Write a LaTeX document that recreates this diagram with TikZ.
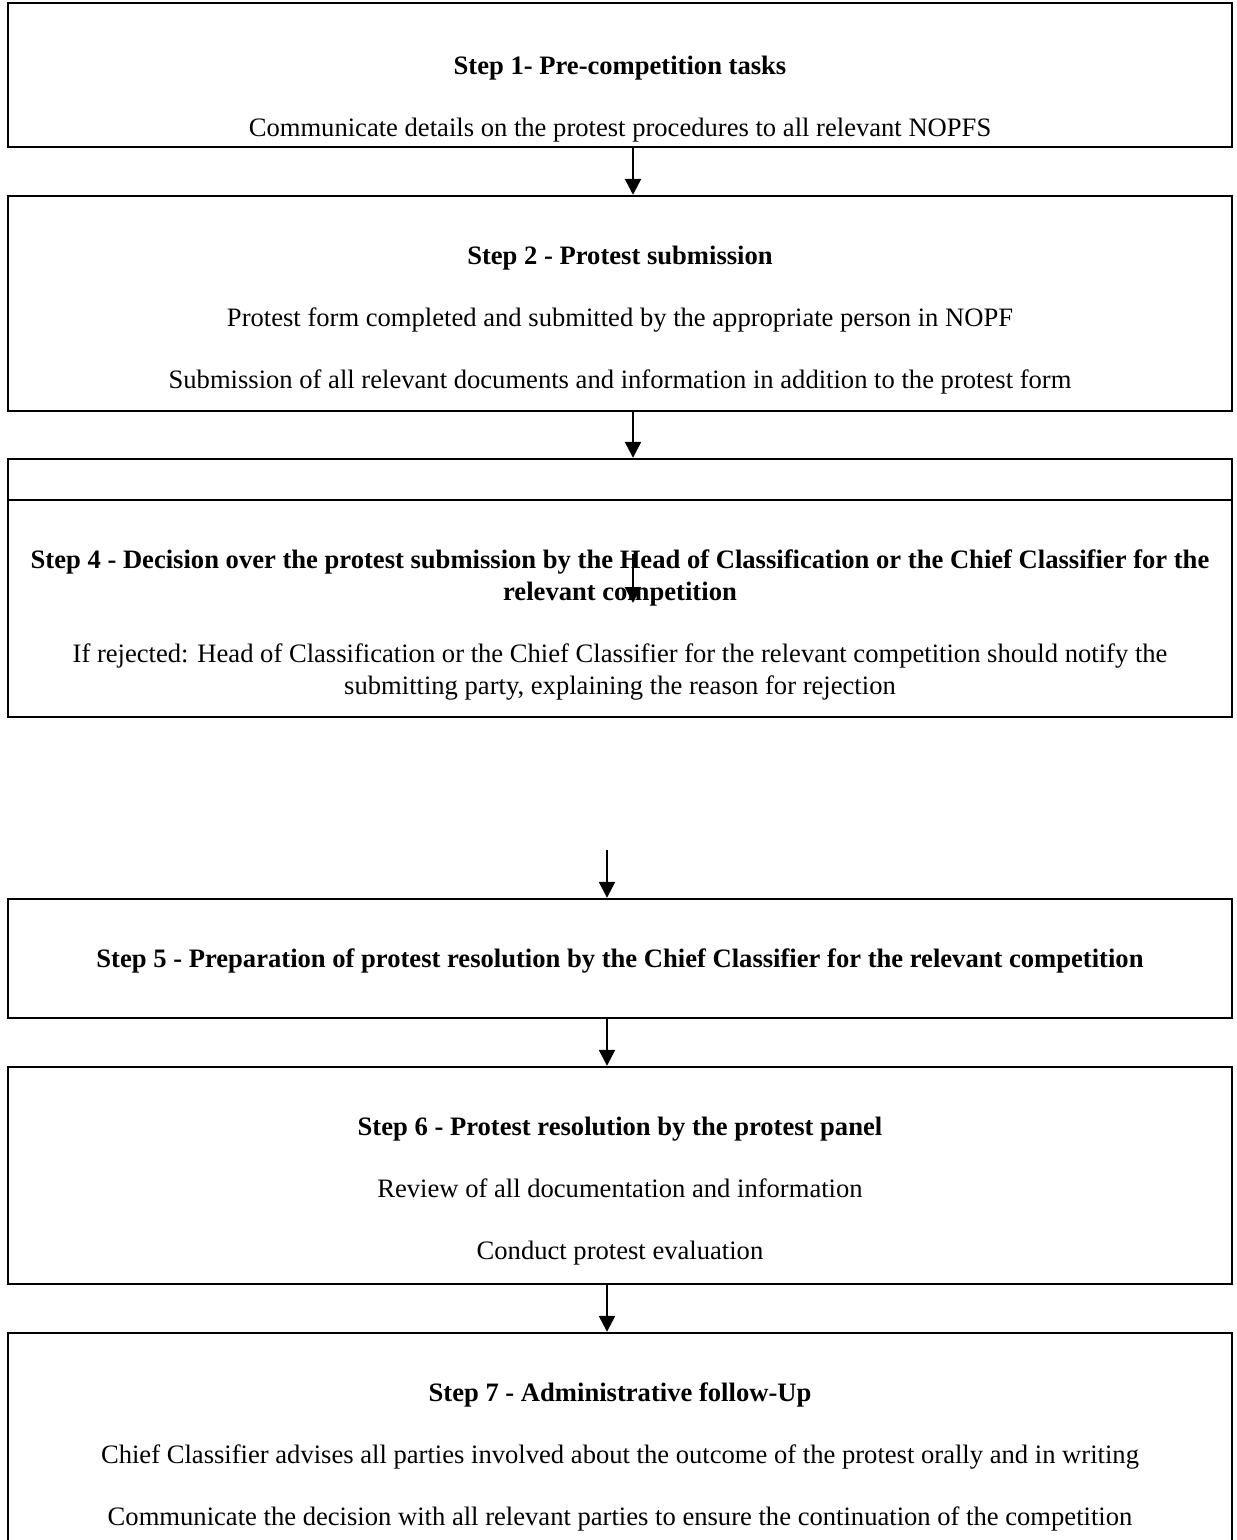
\documentclass[tikz,border=0pt]{standalone}
\usepackage{fontspec}
\setmainfont{Liberation Serif}
\usetikzlibrary{arrows.meta}
\tikzset{
  stepbox/.style={draw=black, line width=1.2pt, minimum width=612pt, inner sep=0pt},
  txt/.style={align=center, inner sep=0pt, font=\fontsize{13.3}{16}\selectfont},
  flow/.style={-{Triangle[length=8pt,width=8pt]}, line width=1.2pt}
}
\begin{document}
\begin{tikzpicture}[x=0.5pt, y=-0.5pt]
  \clip (0,0) rectangle (1236,1540);
  \fill[white] (0,0) rectangle (1236,1540);

  % boxes
  \node[stepbox, minimum height=72pt]    (step1) at (620,75)     {};
  \node[stepbox, minimum height=107.5pt] (step2) at (620,303.5)  {};
  \node[stepbox, minimum height=20.5pt]  (step3) at (620,479.5)  {};
  \node[stepbox, minimum height=108.5pt] (step4) at (620,608.5)  {};
  \node[stepbox, minimum height=59.5pt]  (step5) at (620,958.5)  {};
  \node[stepbox, minimum height=108.5pt] (step6) at (620,1175.5) {};
  \node[stepbox, minimum height=125pt]   (step7) at (620,1458)   {};

  % texts
  \node[txt] (t1) at (620,99) {\textbf{Step 1- Pre-competition tasks}\\[15pt]
    Communicate details on the protest procedures to all relevant NOPFS};
  \node[txt] (t2) at (620,320) {\textbf{Step 2 - Protest submission}\\[15pt]
    Protest form completed and submitted by the appropriate person in NOPF\\[15pt]
    Submission of all relevant documents and information in addition to the protest form};
  \node[txt] (t4) at (620,625) {\textbf{Step 4 - Decision over the protest submission by the Head of Classification or the Chief Classifier for the}\\
    \textbf{relevant competition}\\[15pt]
    If rejected: Head of Classification or the Chief Classifier for the relevant competition should notify the\\
    submitting party, explaining the reason for rejection};
  \node[txt] (t5) at (620,961) {\textbf{Step 5 - Preparation of protest resolution by the Chief Classifier for the relevant competition}};
  \node[txt] (t6) at (620,1191) {\textbf{Step 6 - Protest resolution by the protest panel}\\[15pt]
    Review of all documentation and information\\[15pt]
    Conduct protest evaluation};
  \node[txt] (t7) at (620,1457) {\textbf{Step 7 - Administrative follow-Up}\\[15pt]
    Chief Classifier advises all parties involved about the outcome of the protest orally and in writing\\[15pt]
    Communicate the decision with all relevant parties to ensure the continuation of the competition};

  % arrows
  \coordinate (mid4a) at (633,554);
  \coordinate (mid4b) at (633,603);
  \coordinate (gap4) at (607,850);
  \draw[flow] ([xshift=6.5pt]step1.south) -- ([xshift=6.5pt]step2.north);
  \draw[flow] ([xshift=6.5pt]step2.south) -- ([xshift=6.5pt]step3.north);
  \draw[flow] (mid4a) -- (mid4b);
  \draw[flow] (gap4) -- ([xshift=-6.5pt]step5.north);
  \draw[flow] ([xshift=-6.5pt]step5.south) -- ([xshift=-6.5pt]step6.north);
  \draw[flow] ([xshift=-6.5pt]step6.south) -- ([xshift=-6.5pt]step7.north);
\end{tikzpicture}
\end{document}
